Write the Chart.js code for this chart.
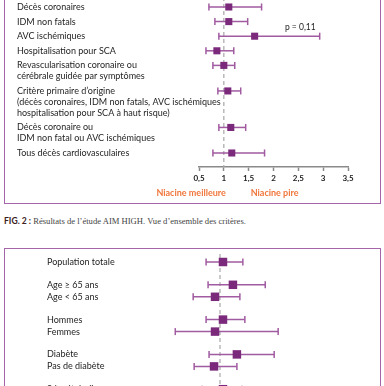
<!DOCTYPE html>
<html>
<head>
<meta charset="utf-8">
<script src="https://cdn.jsdelivr.net/npm/chart.js@4/dist/chart.umd.min.js"></script>
<style>
  html, body { margin: 0; padding: 0; background: #fff; }
  body { width: 384px; height: 386px; overflow: hidden; position: relative; }
  .box { position: absolute; border: 1.5px solid #a466a8; box-sizing: border-box; }
  canvas { position: absolute; }
  #caption { position: absolute; left: 4px; top: 216px; font-size: 8.6px; white-space: nowrap;
             font-family: "Liberation Serif", serif; color: #444; }
  #caption b { font-family: Lato, sans-serif; color: #3a2020; }
</style>
</head>
<body>
<div class="box" style="left:4px; top:-20px; width:377px; height:224px;"></div>
<canvas id="outcomeCanvas" style="left:5px; top:-10px;" width="375" height="213"></canvas>
<div id="caption"><b>FIG. 2 :</b> Résultats de l’étude AIM HIGH. Vue d’ensemble des critères.</div>
<div class="box" style="left:4px; top:247.5px; width:377px; height:200px;"></div>
<canvas id="subgroupCanvas" style="left:5px; top:248px;" width="375" height="158"></canvas>
<script>
// critères (fig. 2)
var outcomeLabels = [
    ['Décès coronaires'],
    ['IDM non fatals'],
    ['AVC ischémiques'],
    ['Hospitalisation pour SCA'],
    ['Revascularisation coronaire ou', 'cérébrale guidée par symptômes'],
    ['Critère primaire d’origine', '(décès coronaires, IDM non fatals, AVC ischémiques', 'hospitalisation pour SCA à haut risque)'],
    ['Décès coronaire ou', 'IDM non fatal ou AVC ischémiques'],
    ['Tous décès cardiovasculaires']
];
var outcomeHR   = [1.10, 1.10, 1.62, 0.86, 1.00, 1.08, 1.14, 1.16];
var outcomeLow  = [0.70, 0.82, 0.90, 0.64, 0.78, 0.88, 0.90, 0.78];
var outcomeHigh = [1.76, 1.48, 2.93, 1.20, 1.22, 1.34, 1.44, 1.82];
var pValueText = 'p = 0,11';
var pValueRow = 2;
var xTickLabels = ['0,5', '1', '1,5', '2', '2,5', '3', '3,5'];

// sous-groupes
var subgroupLabels = ['Population totale', 'Age ≥ 65 ans', 'Age < 65 ans', 'Hommes', 'Femmes',
                      'Diabète', 'Pas de diabète', 'Sd métabolique'];
var subgroupBlock = [0, 1, 1, 2, 2, 3, 3, 4];
var subgroupHR   = [1.06, 1.26, 0.90, 1.06, 0.90, 1.34, 0.88, 1.06];
var subgroupLow  = [0.72, 0.76, 0.46, 0.72, 0.10, 0.78, 0.48, 0.64];
var subgroupHigh = [1.46, 1.91, 1.40, 1.50, 2.17, 2.09, 1.34, 1.44];

var FONT = 'Lato, "Open Sans", sans-serif';
var markColor = '#7b2a7b';
var barColor = '#a15ba1';

// row positions come from the number of text lines in each label
var outcomePos = [];
var p = 0;
outcomeLabels.forEach(function (lines) {
    outcomePos.push(p);
    p += 1 + (lines.length - 1) * 0.75;
});
var subgroupPos = [];
p = 0;
subgroupBlock.forEach(function (b, i) {
    if (i > 0) p += (b !== subgroupBlock[i - 1]) ? 1.9 : 1;
    subgroupPos.push(p);
});

function buildDatasets(pos, hr, low, high, radius) {
    var sets = [];
    pos.forEach(function (y, i) {
        sets.push({
            data: [{ x: low[i], y: y }, { x: high[i], y: y }],
            showLine: true,
            borderColor: barColor,
            borderWidth: 1.5,
            pointStyle: 'line',
            pointRotation: 90,
            pointRadius: 3.5,
            pointBorderColor: barColor,
            pointBorderWidth: 1.5,
            clip: false,
            order: 2
        });
    });
    sets.push({
        data: pos.map(function (y, i) { return { x: hr[i], y: y }; }),
        pointStyle: 'rect',
        pointRadius: radius,
        backgroundColor: markColor,
        borderWidth: 0,
        clip: false,
        order: 1
    });
    return sets;
}

var forestPlugin = {
    id: 'forest',
    beforeDatasetsDraw: function (chart, args, opts) {
        var ctx = chart.ctx, xs = chart.scales.x, area = chart.chartArea;
        var x1 = xs.getPixelForValue(1);
        ctx.save();
        ctx.strokeStyle = '#a8a8a8';
        ctx.lineWidth = 1.2;
        ctx.setLineDash([4, 3]);
        ctx.beginPath();
        ctx.moveTo(x1, area.top + opts.lineTop);
        ctx.lineTo(x1, area.bottom);
        ctx.stroke();
        ctx.restore();
    },
    afterDraw: function (chart, args, opts) {
        var ctx = chart.ctx, ys = chart.scales.y, xs = chart.scales.x;
        ctx.save();
        ctx.fillStyle = '#1e1e1e';
        ctx.font = opts.fontSize + 'px ' + FONT;
        ctx.textBaseline = 'middle';
        ctx.textAlign = 'left';
        opts.labels.forEach(function (lines, i) {
            var y = ys.getPixelForValue(opts.pos[i]);
            [].concat(lines).forEach(function (t, k) {
                ctx.fillText(t, opts.labelX, y + k * 11);
            });
        });
        if (opts.pText) {
            var r = opts.pRow;
            ctx.textAlign = 'right';
            ctx.font = '8.5px ' + FONT;
            ctx.fillText(opts.pText, xs.getPixelForValue(outcomeHigh[r]) - 4, ys.getPixelForValue(opts.pos[r]) - 9);
        }
        if (opts.sides) {
            var x1 = xs.getPixelForValue(1);
            ctx.fillStyle = '#f0763c';
            ctx.font = 'bold 9px ' + FONT;
            ctx.textAlign = 'right';
            ctx.fillText('Niacine meilleure', x1 + 2, chart.chartArea.bottom + 26);
            ctx.textAlign = 'left';
            ctx.fillText('Niacine pire', xs.getPixelForValue(1.5) + 2, chart.chartArea.bottom + 26);
        }
        ctx.restore();
    }
};

new Chart(document.getElementById('outcomeCanvas'), {
    type: 'scatter',
    data: { datasets: buildDatasets(outcomePos, outcomeHR, outcomeLow, outcomeHigh, 5) },
    plugins: [forestPlugin],
    options: {
        responsive: false,
        animation: false,
        events: [],
        layout: { autoPadding: false, padding: { left: 194, right: 32, top: 0, bottom: 12 } },
        scales: {
            x: {
                type: 'linear', min: 0.5, max: 3.5,
                afterFit: function (s) { s.height = 24; },
                ticks: {
                    stepSize: 0.5, padding: 3, color: '#222',
                    font: { family: FONT, size: 8, weight: 'bold' },
                    callback: function (v, i) { return xTickLabels[i]; }
                },
                grid: { drawOnChartArea: false, tickLength: 4, tickColor: '#8a8a8a', tickWidth: 1.5 },
                border: { color: '#8a8a8a', width: 1.5 }
            },
            y: { type: 'linear', display: false, reverse: true, min: -1.164, max: 10.959 }
        },
        plugins: {
            legend: { display: false },
            tooltip: { enabled: false },
            forest: { labels: outcomeLabels, pos: outcomePos, labelX: 12, fontSize: 9,
                      lineTop: 0, pText: pValueText, pRow: pValueRow, sides: true }
        }
    }
});

new Chart(document.getElementById('subgroupCanvas'), {
    type: 'scatter',
    data: { datasets: buildDatasets(subgroupPos, subgroupHR, subgroupLow, subgroupHigh, 6) },
    plugins: [forestPlugin],
    options: {
        responsive: false,
        animation: false,
        events: [],
        layout: { autoPadding: false, padding: 0 },
        scales: {
            x: { type: 'linear', display: false, min: 1 - 215 / 49.7, max: 1 + 160 / 49.7 },
            y: { type: 'linear', display: false, reverse: true, min: -1.1667, max: 12 }
        },
        plugins: {
            legend: { display: false },
            tooltip: { enabled: false },
            forest: { labels: subgroupLabels, pos: subgroupPos, labelX: 42, fontSize: 9, lineTop: 6 }
        }
    }
});
</script>
</body>
</html>
